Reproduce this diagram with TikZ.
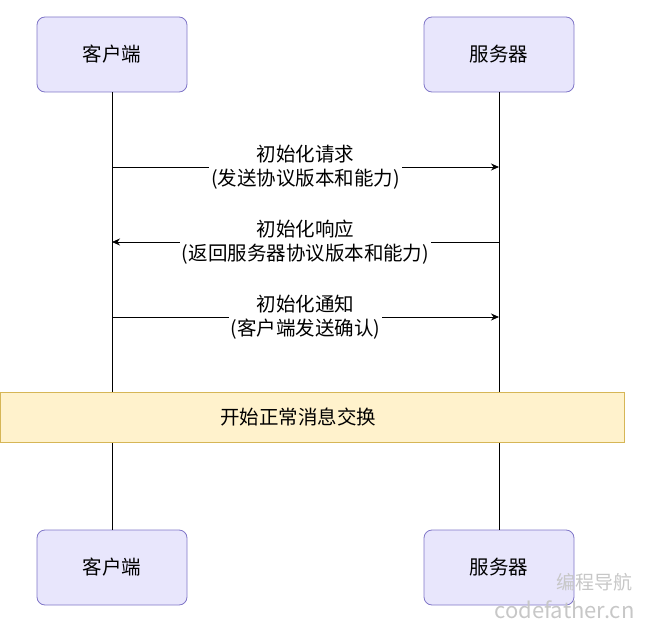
\documentclass[tikz,border=0pt]{standalone}
\usepackage{fontspec}
\usetikzlibrary{arrows.meta}
\setmainfont{Noto Sans CJK SC}
\setsansfont{Noto Sans CJK SC}
\definecolor{actfill}{RGB}{232,230,252}
\definecolor{actdraw}{RGB}{128,118,200}
\begin{document}
\begin{tikzpicture}[x=1pt,y=-1pt,
  actor/.style={draw=actdraw, fill=actfill, rounded corners=8pt, line width=0.8pt, minimum width=150pt, minimum height=75pt, font=\fontsize{19.5}{22}\selectfont},
  msg/.style={-{Stealth[length=8pt,width=7pt]}, line width=0.8pt},
  lbl/.style={fill=white, align=center, inner sep=2pt, font=\fontsize{19.5}{24}\selectfont}]
\useasboundingbox (0,0) rectangle (646,626);
\node[actor] (c1) at (112,54.5) {客户端};
\node[actor] (s1) at (499,54.5) {服务器};
\node[actor] (c2) at (112,567.5) {客户端};
\node[actor] (s2) at (499,567.5) {服务器};
\draw[line width=0.8pt] (c1) -- (c2);
\draw[line width=0.8pt] (s1) -- (s2);
\coordinate (a1) at (112,167); \coordinate (b1) at (499,167);
\coordinate (a2) at (112,242); \coordinate (b2) at (499,242);
\coordinate (a3) at (112,317); \coordinate (b3) at (499,317);
\draw[msg] (a1) -- (b1) node[lbl, pos=0.5] (l1) {初始化请求\\(发送协议版本和能力)};
\draw[msg] (b2) -- (a2) node[lbl, pos=0.5] (l2) {初始化响应\\(返回服务器协议版本和能力)};
\draw[msg] (a3) -- (b3) node[lbl, pos=0.5] (l3) {初始化通知\\(客户端发送确认)};
\node[draw={rgb,255:red,214;green,182;blue,86}, fill={rgb,255:red,255;green,242;blue,204}, line width=0.8pt, minimum width=624pt, minimum height=50pt] (n) at (312,417) {};
\node[font=\fontsize{19.5}{22}\selectfont] (nt) at (298,417) {开始正常消息交换};
\node[text=black!22, font=\fontsize{19}{20}\selectfont, anchor=east] (w1) at (636,582) {编程导航};
\node[text=black!22, font=\fontsize{22}{22}\selectfont, anchor=east] (w2) at (638,610) {codefather.cn};
\end{tikzpicture}
\end{document}
